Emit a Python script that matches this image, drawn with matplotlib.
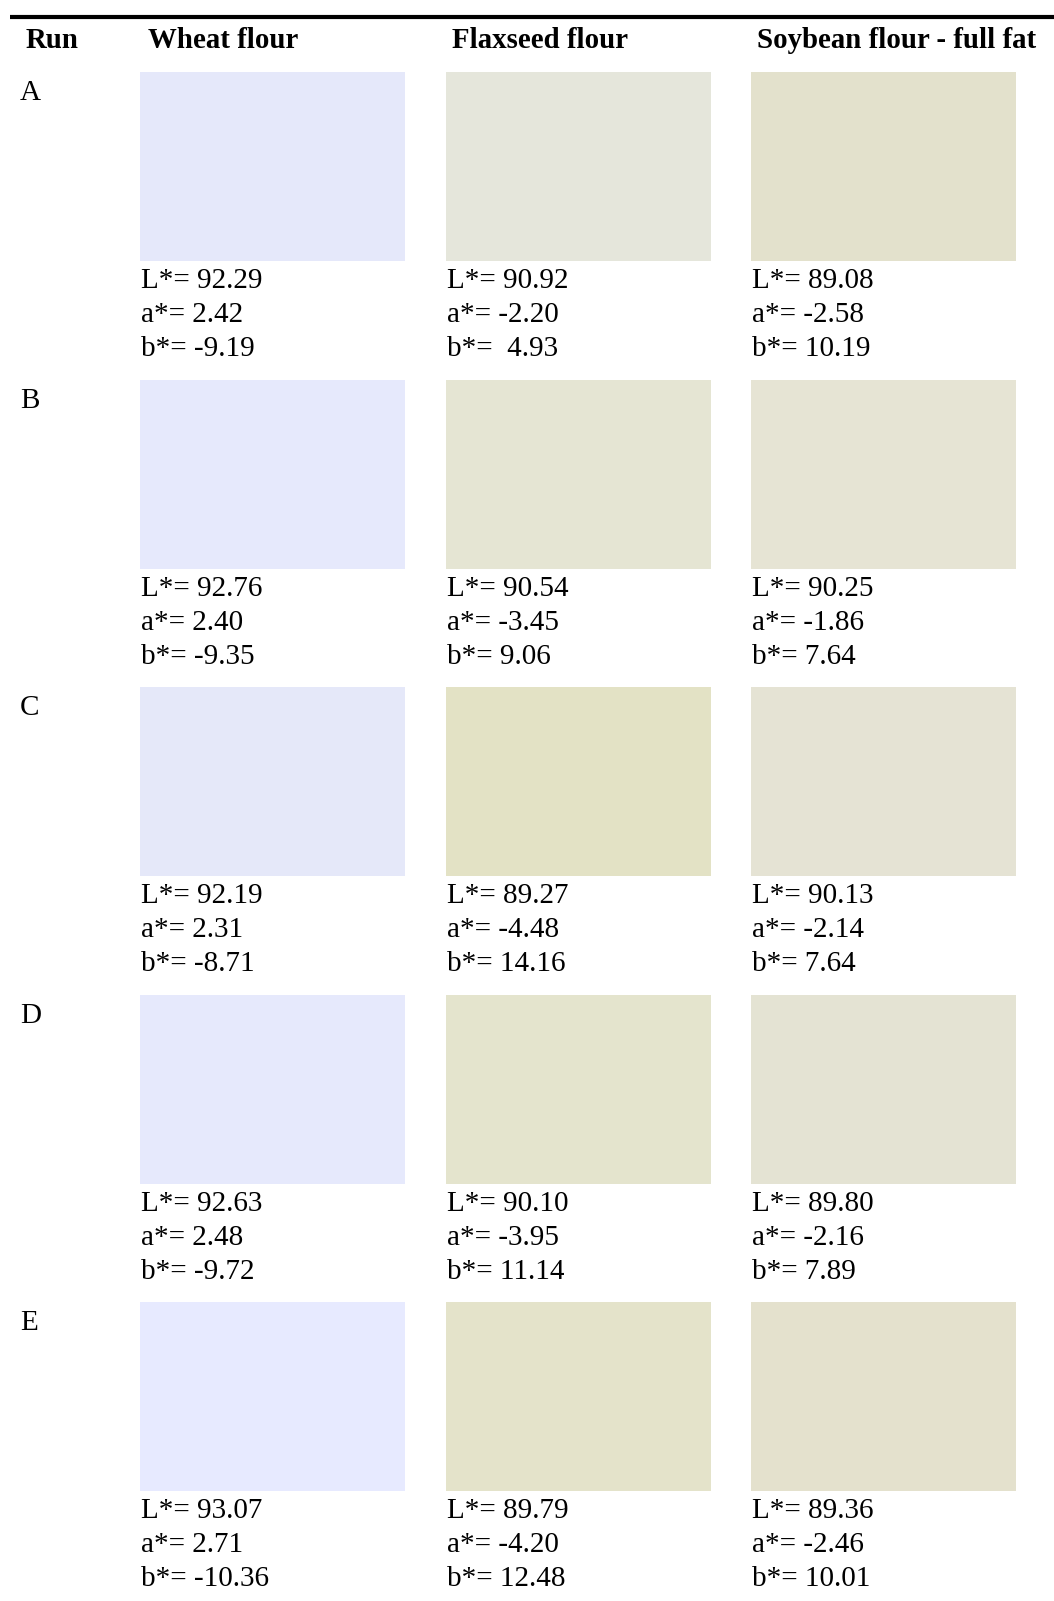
import numpy as np
import matplotlib.pyplot as plt

runs = ["A", "B", "C", "D", "E"]
flours = ["Wheat flour", "Flaxseed flour", "Soybean flour - full fat"]

# L*, a*, b* per run (rows) and flour (columns)
L_vals = [[92.29, 90.92, 89.08],
          [92.76, 90.54, 90.25],
          [92.19, 89.27, 90.13],
          [92.63, 90.10, 89.80],
          [93.07, 89.79, 89.36]]
a_vals = [[2.42, -2.20, -2.58],
          [2.40, -3.45, -1.86],
          [2.31, -4.48, -2.14],
          [2.48, -3.95, -2.16],
          [2.71, -4.20, -2.46]]
b_vals = [[-9.19, 4.93, 10.19],
          [-9.35, 9.06, 7.64],
          [-8.71, 14.16, 7.64],
          [-9.72, 11.14, 7.89],
          [-10.36, 12.48, 10.01]]


def lab_to_rgb(L, a, b):
    # CIE L*a*b* (D65) -> sRGB
    fy = (L + 16) / 116
    fx = fy + a / 500
    fz = fy - b / 200

    def finv(t):
        return t ** 3 if t ** 3 > 0.008856 else (t - 16 / 116) / 7.787

    X = 0.95047 * finv(fx)
    Y = 1.00000 * finv(fy)
    Z = 1.08883 * finv(fz)
    M = np.array([[3.2406, -1.5372, -0.4986],
                  [-0.9689, 1.8758, 0.0415],
                  [0.0557, -0.2040, 1.0570]])
    rgb = M @ np.array([X, Y, Z])
    out = []
    for c in rgb:
        c = 12.92 * c if c <= 0.0031308 else 1.055 * c ** (1 / 2.4) - 0.055
        out.append(min(max(c, 0), 1))
    return out


fig = plt.figure(figsize=(10.54, 16.01), dpi=100)
ax = fig.add_axes([0, 0, 1, 1])
ax.set_xlim(0, 1054)
ax.set_ylim(1601, 0)
ax.axis("off")

serif = ["Liberation Serif", "DejaVu Serif"]

# top rule
ax.plot([10, 1054], [16.5, 16.5], color="black", lw=3.0, solid_capstyle="butt")

# headers
ax.text(26, 48, "Run", ha="left", va="baseline", fontsize=20.8, fontweight="bold", family=serif)
col_x = [140, 446, 751]
head_x = [148, 452, 757]
for hx, name in zip(head_x, flours):
    ax.text(hx, 48, name, ha="left", va="baseline", fontsize=20.8, fontweight="bold", family=serif)

row_top = 72
row_step = 307.5
sw_w = 265
sw_h = 189

for i, run in enumerate(runs):
    top = row_top + i * row_step
    ax.text(20, top + 28, run, ha="left", va="baseline", fontsize=21, family=serif)
    for j in range(3):
        x0 = col_x[j]
        color = lab_to_rgb(L_vals[i][j], a_vals[i][j], b_vals[i][j])
        ax.add_patch(plt.Rectangle((x0, top), sw_w, sw_h, facecolor=color, edgecolor="none"))
        b_txt = "b*=  %.2f" % b_vals[i][j] if (i == 0 and j == 1) else "b*= %.2f" % b_vals[i][j]
        lines = ["L*= %.2f" % L_vals[i][j], "a*= %.2f" % a_vals[i][j], b_txt]
        for k, t in enumerate(lines):
            ax.text(x0 + 1, top + 216 + k * 34, t, ha="left", va="baseline", fontsize=21, family=serif)

fig.savefig("out.png", dpi=100)
